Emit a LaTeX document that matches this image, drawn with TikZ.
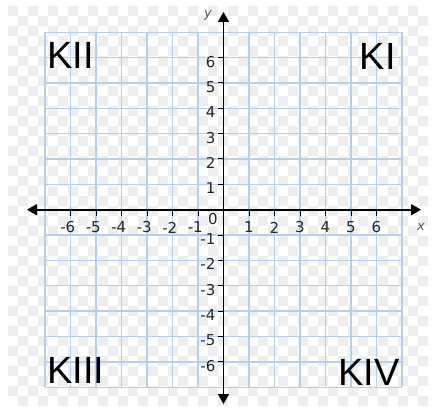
\documentclass[tikz,border=0pt]{standalone}
\usepackage{fontspec}
\usetikzlibrary{arrows.meta}
\newfontfamily\dvs{DejaVu Sans}
\newfontfamily\lib{Liberation Sans}
\definecolor{gridblue}{HTML}{B5D0EA}
\definecolor{checker}{HTML}{EEEEEE}
\tikzset{
  gridline/.style={draw=gridblue, line width=1.3pt},
  axisline/.style={draw=black, line width=1.6pt, -{Triangle[length=10pt,width=11pt]}},
  tickline/.style={draw=black, line width=1pt},
  numlbl/.style={font=\dvs\fontsize{15}{15}\selectfont, text=black!85, inner sep=0pt},
  varlbl/.style={font=\dvs\itshape\fontsize{13}{13}\selectfont, text=black!65, inner sep=0pt},
  quadlbl/.style={font=\lib\fontsize{38}{38}\selectfont, text=black, inner sep=0pt},
}
\begin{document}
\begin{tikzpicture}[x=1pt,y=-1pt]
\def\ox{223.5}\def\oy{209.7}\def\gux{25.5}\def\guy{25.36}
\useasboundingbox (0,0) rectangle (439,412);
\fill[white] (0,0) rectangle (439,412);
% checkerboard background
\foreach \j in {0,...,39}{
  \pgfmathtruncatemacro\off{mod(\j,2)}
  \foreach \i in {0,2,...,41}{
    \fill[checker] ({8+(\i+\off)*10},{6+\j*10}) rectangle ++(10,10);
  }
}
% grid
\foreach \i in {-7,...,7}{
  \draw[gridline] ({\ox+\i*\gux},{\oy-7*\guy}) -- ({\ox+\i*\gux},{\oy+7*\guy});
  \draw[gridline] ({\ox-7*\gux},{\oy+\i*\guy}) -- ({\ox+7*\gux},{\oy+\i*\guy});
}
% axes
\coordinate (xl) at (27,\oy);
\coordinate (xr) at (421,\oy);
\coordinate (yt) at (\ox,12);
\coordinate (yb) at (\ox,404);
\draw[axisline] (\ox,\oy) -- (xr);
\draw[axisline] (\ox,\oy) -- (xl);
\draw[axisline] (\ox,\oy) -- (yt);
\draw[axisline] (\ox,\oy) -- (yb);
% ticks and labels
\foreach \i in {1,...,6}{
  \draw[tickline] ({\ox+\i*\gux},\oy) -- ({\ox+\i*\gux},{\oy+6});
  \draw[tickline] ({\ox-\i*\gux},\oy) -- ({\ox-\i*\gux},{\oy+6});
  \draw[tickline] (\ox,{\oy-\i*\guy}) -- ({\ox-6},{\oy-\i*\guy});
  \draw[tickline] (\ox,{\oy+\i*\guy}) -- ({\ox-6},{\oy+\i*\guy});
  \node[numlbl] (xp\i) at ({\ox+\i*\gux},227.5) {\i};
  \node[numlbl] (xn\i) at ({\ox-\i*\gux},227.5) {\llap{-}\i};
  \node[numlbl, anchor=east] (yp\i) at ({\ox-8},{\oy-\i*\guy+4}) {\i};
  \node[numlbl, anchor=east] (yn\i) at ({\ox-8},{\oy+\i*\guy+4}) {-\i};
}
\node[numlbl] (zero) at (213,219) {0};
\node[varlbl] (xlab) at (421,227) {x};
\node[varlbl] (ylab) at (208,15) {y};
% quadrant labels
\node[quadlbl, anchor=base west] (k2) at (47,68) {KII};
\node[quadlbl, anchor=base east] (k1) at (396,70) {KI};
\node[quadlbl, anchor=base west] (k3) at (47,383) {KIII};
\node[quadlbl, anchor=base east] (k4) at (400,385) {KIV};
\end{tikzpicture}
\end{document}
